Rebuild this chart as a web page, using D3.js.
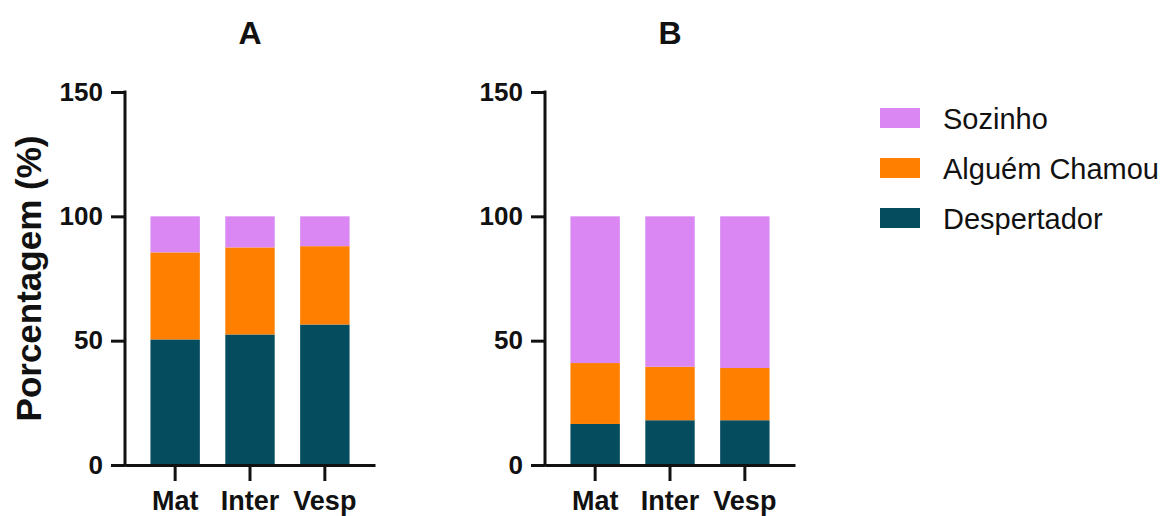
<!DOCTYPE html>
<html>
<head>
<meta charset="utf-8">
<script src="https://cdn.jsdelivr.net/npm/d3@7/dist/d3.min.js"></script>
<style>
  html, body { margin: 0; padding: 0; background: #fff; }
  svg { display: block; }
  text { font-family: "Liberation Sans", Arial, sans-serif; fill: #111; }
</style>
</head>
<body>
<svg id="chart" width="1168" height="516"></svg>
<script>
// ---- Data ----
const categories = ["Mat", "Inter", "Vesp"];
const seriesNames = ["Despertador", "Alguém Chamou", "Sozinho"];
const seriesColors = ["#054c5e", "#ff8000", "#da86f3"];
const yTicks = [0, 50, 100, 150];
const panelTitles = ["A", "B"];

const A_despertador = [50.5, 52.5, 56.5];
const A_alguem = [35, 35, 31.5];
const A_sozinho = [14.5, 12.5, 12];

const B_despertador = [16.5, 18, 18];
const B_alguem = [24.5, 21.5, 21];
const B_sozinho = [59, 60.5, 61];

const panelsData = [
  [A_despertador, A_alguem, A_sozinho],
  [B_despertador, B_alguem, B_sozinho]
];

// ---- Layout ----
const svg = d3.select("#chart");
const yTop = 92, yBottom = 465;
const panelX = [125, 545];
const panelW = 250;

const y = d3.scaleLinear().domain([0, 150]).range([yBottom, yTop]);
const color = d3.scaleOrdinal().domain(seriesNames).range(seriesColors);

panelsData.forEach((series, p) => {
  const x0 = panelX[p];
  const x = d3.scaleBand().domain(categories)
    .range([x0, x0 + panelW]).paddingInner(0.34).paddingOuter(0.34);

  const rows = categories.map((c, i) => {
    const r = { cat: c };
    seriesNames.forEach((s, k) => r[s] = series[k][i]);
    return r;
  });
  const stacked = d3.stack().keys(seriesNames)(rows);

  const g = svg.append("g");
  g.selectAll("g.layer").data(stacked).join("g")
    .attr("fill", d => color(d.key))
    .selectAll("rect").data(d => d).join("rect")
    .attr("x", d => x(d.data.cat))
    .attr("width", x.bandwidth())
    .attr("y", d => y(d[1]))
    .attr("height", d => y(d[0]) - y(d[1]));

  // Y axis
  const yAxis = g.append("g")
    .attr("transform", `translate(${x0},0)`)
    .call(d3.axisLeft(y).tickValues(yTicks).tickSize(14).tickSizeOuter(0).tickPadding(8));
  // X axis
  const xAxis = g.append("g")
    .attr("transform", `translate(0,${yBottom})`)
    .call(d3.axisBottom(x).tickSize(16).tickSizeOuter(0).tickPadding(10));

  [yAxis, xAxis].forEach(ax => {
    ax.selectAll("path, line").attr("stroke", "#111").attr("stroke-width", 3);
    ax.selectAll("text").attr("font-weight", "bold")
      .attr("fill", "#111").style("font-family", "'Liberation Sans', Arial, sans-serif");
  });
  yAxis.selectAll("text").attr("font-size", 26);
  xAxis.selectAll("text").attr("font-size", 27);
  yAxis.select("path.domain").attr("d", `M0,${yBottom + 1.5}V${yTop - 1.5}`);

  // Panel title
  svg.append("text")
    .attr("x", x0 + panelW / 2)
    .attr("y", 44)
    .attr("text-anchor", "middle")
    .attr("font-size", 32)
    .attr("font-weight", "bold")
    .text(panelTitles[p]);
});

// Y axis title
svg.append("text")
  .attr("transform", `translate(41,${(yTop + yBottom) / 2}) rotate(-90)`)
  .attr("text-anchor", "middle")
  .attr("font-size", 35)
  .attr("font-weight", "bold")
  .text("Porcentagem (%)");

// Legend (top to bottom: Sozinho, Alguém Chamou, Despertador)
const legendOrder = seriesNames.slice().reverse();
const leg = svg.append("g");
legendOrder.forEach((s, i) => {
  const cy = 118 + i * 50;
  leg.append("rect")
    .attr("x", 880).attr("y", cy - 10)
    .attr("width", 40).attr("height", 20)
    .attr("fill", color(s));
  leg.append("text")
    .attr("x", 943).attr("y", cy + 10.5)
    .attr("font-size", 29)
    .text(s);
});
</script>
</body>
</html>
